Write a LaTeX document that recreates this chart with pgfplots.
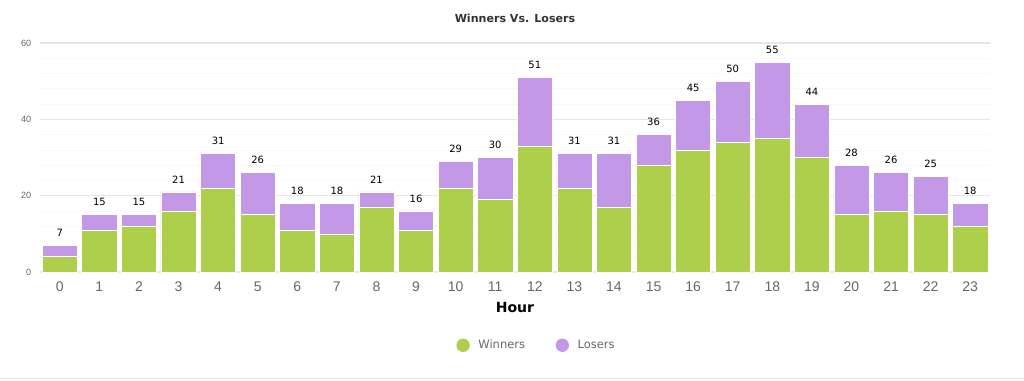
\documentclass[border=0pt]{standalone}
\usepackage{pgfplots}
\pgfplotsset{compat=1.18}
\usepackage{pgfplotstable}
\usepackage{fontspec}
\setmainfont{DejaVu Sans}
\newfontfamily\arialf{Liberation Sans}
\definecolor{win}{RGB}{174,207,75}
\definecolor{los}{RGB}{195,152,231}
\definecolor{tickgray}{RGB}{102,102,102}
\definecolor{titlegray}{RGB}{51,51,51}
\definecolor{gridmaj}{RGB}{230,230,230}
\definecolor{gridmin}{RGB}{242,242,242}
\pgfplotstableread{
x w l t
0 4 3 7
1 11 4 15
2 12 3 15
3 16 5 21
4 22 9 31
5 15 11 26
6 11 7 18
7 10 8 18
8 17 4 21
9 11 5 16
10 22 7 29
11 19 11 30
12 33 18 51
13 22 9 31
14 17 14 31
15 28 8 36
16 32 13 45
17 34 16 50
18 35 20 55
19 30 14 44
20 15 13 28
21 16 10 26
22 15 10 25
23 12 6 18
}\datatable
\pgfplotsset{common/.style={
  scale only axis,
  width=712.5pt, height=171.75pt,
  at={(30pt,81.75pt)}, anchor=south west,
  bar width=0.89,
  xmin=-0.5, xmax=23.5,
  ymin=0, ymax=60,
  /pgf/number format/assume math mode=true,
}}
\begin{document}
\begin{tikzpicture}
\path[use as bounding box] (0,0) rectangle (768pt,285.75pt);
\draw[gridmaj, line width=0.75pt] (0,1.5pt) -- (768pt,1.5pt);
\begin{axis}[
  common,
  ybar stacked,
  xtick=data,
  ytick={0,20,40,60},
  minor y tick num=4,
  ymajorgrids, yminorgrids,
  major grid style={gridmaj, line width=0.8pt},
  minor grid style={gridmin, line width=0.5pt, densely dotted},
  axis line style={draw=none},
  tick style={draw=none},
  major tick length=0pt, minor tick length=0pt,
  xticklabel style={font=\arialf\fontsize{10.5pt}{12pt}\selectfont, text=tickgray, yshift=-4pt},
  yticklabel style={font=\arialf\fontsize{6.8pt}{8pt}\selectfont, text=tickgray, xshift=-3pt},
  xlabel={\textbf{Hour}},
  xlabel style={font=\fontsize{10.5pt}{12pt}\selectfont, yshift=-1pt},
  title={\textbf{Winners Vs. Losers}},
  title style={font=\fontsize{8.3pt}{9pt}\selectfont, text=titlegray, yshift=6pt},
  legend columns=2,
  legend style={at={(0.523,-0.32)}, anchor=center, draw=none, fill=none,
     font=\fontsize{8.6pt}{11pt}\selectfont\color{tickgray},
     /tikz/every even column/.append style={column sep=21pt}},
  legend image code/.code={\fill[#1, draw=none] (0,0) circle (5pt); \path[draw=none, fill=none] (-5pt,0) -- (9.5pt,0);},
  clip=false,
]
\addplot[fill=win, draw=white, line width=0.4pt] table[x=x, y=w] {\datatable};
\addlegendentry{Winners}
\addplot[fill=los, draw=white, line width=0.4pt] table[x=x, y=l] {\datatable};
\addlegendentry{Losers}
\end{axis}
\begin{axis}[
  common,
  ybar,
  hide axis,
  clip=false,
]
\addplot[draw=none, fill=none,
  nodes near coords, nodes near coords align={vertical}, point meta=explicit,
  every node near coord/.append style={font=\fontsize{7.5pt}{9pt}\selectfont, text=black, yshift=3pt}]
  table[x=x, y=t, meta=t] {\datatable};
\end{axis}
\end{tikzpicture}
\end{document}
